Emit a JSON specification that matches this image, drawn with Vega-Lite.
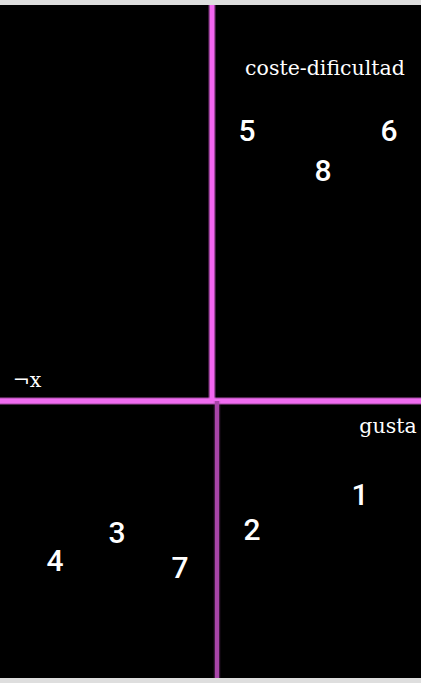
{
  "$schema": "https://vega.github.io/schema/vega-lite/v6.json",
  "width": 421,
  "height": 673,
  "autosize": {"type": "none"},
  "padding": {"left": 0, "right": 0, "top": 5, "bottom": 5},
  "background": "#dedede",
  "config": {"view": {"fill": "#000000", "stroke": null}},
  "datasets": {
    "points": [
      {"id": "1", "gusta": 14.7, "coste": -10.4},
      {"id": "2", "gusta": 3.9, "coste": -13.9},
      {"id": "3", "gusta": -9.6, "coste": -14.2},
      {"id": "4", "gusta": -15.8, "coste": -17.0},
      {"id": "5", "gusta": 3.4, "coste": 26.0},
      {"id": "6", "gusta": 17.6, "coste": 26.0},
      {"id": "7", "gusta": -3.3, "coste": -17.7},
      {"id": "8", "gusta": 11.0, "coste": 22.0}
    ],
    "labels": [
      {"label": "coste-dificultad", "gusta": 11.2, "coste": 32.6},
      {"label": "gusta", "gusta": 17.5, "coste": -3.2},
      {"label": "¬x", "gusta": -18.6, "coste": 1.4}
    ],
    "axisUp": [{"gusta": -0.1, "from": 0, "to": 39.6}],
    "axisDown": [{"gusta": 0.4, "from": -27.7, "to": 0}],
    "axisH": [{"coste": 0, "from": -21.3, "to": 20.8}]
  },
  "layer": [
    {
      "data": {"name": "axisH"},
      "mark": {"type": "rule", "color": "#f06cf0", "strokeWidth": 8, "opacity": 0.35},
      "encoding": {
        "x": {"field": "from", "type": "quantitative", "scale": {"domain": [-21.3, 20.8]}, "axis": null},
        "x2": {"field": "to"},
        "y": {"field": "coste", "type": "quantitative", "scale": {"domain": [-27.7, 39.6]}, "axis": null}
      }
    },
    {
      "data": {"name": "axisH"},
      "mark": {"type": "rule", "color": "#f06cf0", "strokeWidth": 5.5},
      "encoding": {
        "x": {"field": "from", "type": "quantitative", "scale": {"domain": [-21.3, 20.8]}, "axis": null},
        "x2": {"field": "to"},
        "y": {"field": "coste", "type": "quantitative", "scale": {"domain": [-27.7, 39.6]}, "axis": null}
      }
    },
    {
      "data": {"name": "axisUp"},
      "mark": {"type": "rule", "color": "#f266f0", "strokeWidth": 7.5, "opacity": 0.35},
      "encoding": {
        "x": {"field": "gusta", "type": "quantitative", "scale": {"domain": [-21.3, 20.8]}, "axis": null},
        "y": {"field": "from", "type": "quantitative", "scale": {"domain": [-27.7, 39.6]}, "axis": null},
        "y2": {"field": "to"}
      }
    },
    {
      "data": {"name": "axisUp"},
      "mark": {"type": "rule", "color": "#f266f0", "strokeWidth": 5},
      "encoding": {
        "x": {"field": "gusta", "type": "quantitative", "scale": {"domain": [-21.3, 20.8]}, "axis": null},
        "y": {"field": "from", "type": "quantitative", "scale": {"domain": [-27.7, 39.6]}, "axis": null},
        "y2": {"field": "to"}
      }
    },
    {
      "data": {"name": "axisDown"},
      "mark": {"type": "rule", "color": "#a845a8", "strokeWidth": 6.5, "opacity": 0.35},
      "encoding": {
        "x": {"field": "gusta", "type": "quantitative", "scale": {"domain": [-21.3, 20.8]}, "axis": null},
        "y": {"field": "from", "type": "quantitative", "scale": {"domain": [-27.7, 39.6]}, "axis": null},
        "y2": {"field": "to"}
      }
    },
    {
      "data": {"name": "axisDown"},
      "mark": {"type": "rule", "color": "#a845a8", "strokeWidth": 4},
      "encoding": {
        "x": {"field": "gusta", "type": "quantitative", "scale": {"domain": [-21.3, 20.8]}, "axis": null},
        "y": {"field": "from", "type": "quantitative", "scale": {"domain": [-27.7, 39.6]}, "axis": null},
        "y2": {"field": "to"}
      }
    },
    {
      "data": {"name": "labels"},
      "mark": {"type": "text", "color": "#ffffff", "font": "DejaVu Serif", "fontSize": 20.5, "align": "center", "baseline": "alphabetic"},
      "encoding": {
        "x": {"field": "gusta", "type": "quantitative", "scale": {"domain": [-21.3, 20.8]}, "axis": null},
        "y": {"field": "coste", "type": "quantitative", "scale": {"domain": [-27.7, 39.6]}, "axis": null},
        "text": {"field": "label"}
      }
    },
    {
      "data": {"name": "points"},
      "mark": {"type": "text", "color": "#ffffff", "font": "Roboto", "fontWeight": 500, "fontSize": 30, "align": "center", "baseline": "alphabetic"},
      "encoding": {
        "x": {"field": "gusta", "type": "quantitative", "scale": {"domain": [-21.3, 20.8]}, "axis": null},
        "y": {"field": "coste", "type": "quantitative", "scale": {"domain": [-27.7, 39.6]}, "axis": null},
        "text": {"field": "id"}
      }
    }
  ]
}
